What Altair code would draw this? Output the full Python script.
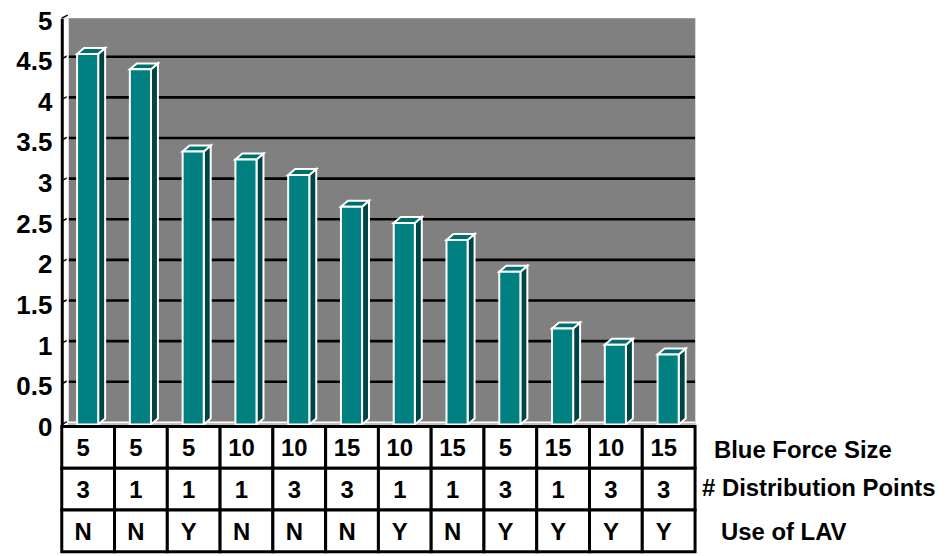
import altair as alt
import pandas as pd

# ---- data ----
values = [4.56, 4.37, 3.36, 3.26, 3.07, 2.68, 2.48, 2.27, 1.88, 1.18, 0.98, 0.86]
blue_force = ["5", "5", "5", "10", "10", "15", "10", "15", "5", "15", "10", "15"]
dist_points = ["3", "1", "1", "1", "3", "3", "1", "1", "3", "1", "3", "3"]
use_lav = ["N", "N", "Y", "N", "N", "N", "Y", "N", "Y", "Y", "Y", "Y"]
row_labels = ["Blue Force Size", "# Distribution Points", "Use of LAV"]
y_ticks = [0, 0.5, 1, 1.5, 2, 2.5, 3, 3.5, 4, 4.5, 5]

# ---- style / layout constants ----
W, H = 636, 536
Y0_PX = 408            # pixel row of value 0 inside the plot
TABLE_RANGE = [410, 536]
WALL_X = 6             # pixel offset of the back wall from the axis
FRONT_L, FRONT_R = 0.21, 0.19
DX, DY = 0.132, 0.073  # 3-D depth in data units
FONT = "Liberation Sans"
TEAL, DARK, GRAY = "#008080", "#004545", "#808080"
label_x = [655, 643, 662]
label_dy = [4, 0, 2]

n = len(values)
bars = pd.DataFrame({"i": list(range(n)), "v": values})
bars["c"] = bars["i"] + 0.5
bars["xl"] = bars["c"] - FRONT_L
bars["xr"] = bars["c"] + FRONT_R
bars["base"] = 0.0

side_rows, top_rows = [], []
for _, r in bars.iterrows():
    side_rows.append({"i": r.i, "x": r.xr, "y": r.v, "y2": 0.0})
    side_rows.append({"i": r.i, "x": r.xr + DX, "y": r.v + DY, "y2": DY})
    top_rows.append({"i": r.i, "y": r.v, "x": r.xl, "x2": r.xr})
    top_rows.append({"i": r.i, "y": r.v + DY, "x": r.xl + DX, "x2": r.xr + DX})
side = pd.DataFrame(side_rows)
top = pd.DataFrame(top_rows)

cells = []
for lab, vals in zip(row_labels, [blue_force, dist_points, use_lav]):
    for i, v in enumerate(vals):
        cells.append({"row": lab, "x0": i, "x1": i + 1, "c": i + 0.5, "val": v})
cells = pd.DataFrame(cells)

xs = alt.Scale(domain=[0, n], nice=False, zero=False)
ys = alt.Scale(domain=[0, 5], range=[Y0_PX, 0], nice=False, zero=False)
rs = alt.Scale(domain=row_labels, range=TABLE_RANGE, paddingInner=0, paddingOuter=0)
y_axis = alt.Axis(values=y_ticks, format="~g", ticks=False, grid=False,
                  domainColor="black", domainWidth=3, labelFont=FONT,
                  labelFontSize=26, labelFontWeight="bold", labelColor="black",
                  labelPadding=10, labelOffset=3, title=None)

grid_df = pd.DataFrame({"t": [t for t in y_ticks if 0 < t < 5]})
tick_df = pd.DataFrame({"t": y_ticks})

ticks = alt.Chart(tick_df).mark_rule(color="black", strokeWidth=1.5, y2Offset=-3).encode(
    y=alt.Y("t:Q", scale=ys, axis=y_axis),
    y2="t:Q", x=alt.value(0), x2=alt.value(WALL_X)
)
wall = alt.Chart(pd.DataFrame({"a": [0]})).mark_rect(fill=GRAY).encode(
    x=alt.value(WALL_X), x2=alt.value(W), y=alt.value(0), y2=alt.value(Y0_PX)
)
wall_edge = alt.Chart(pd.DataFrame({"a": [0]})).mark_rule(color="white", strokeWidth=2).encode(
    x=alt.value(WALL_X), y=alt.value(0), y2=alt.value(Y0_PX - 2)
)
floor = alt.Chart(pd.DataFrame({"a": [0]})).mark_rule(color="white", strokeWidth=2).encode(
    x=alt.value(WALL_X), x2=alt.value(W), y=alt.value(Y0_PX - 2)
)
grid = alt.Chart(grid_df).mark_rule(color="black", strokeWidth=2.6, yOffset=-2).encode(
    y=alt.Y("t:Q", scale=ys, axis=y_axis), x=alt.value(WALL_X), x2=alt.value(W)
)
side_l = alt.Chart(side).mark_area(fill=DARK, stroke="white", strokeWidth=2, strokeJoin="miter").encode(
    x=alt.X("x:Q", scale=xs, axis=None), y=alt.Y("y:Q", scale=ys, axis=y_axis), y2="y2:Q", detail="i:N"
)
top_l = alt.Chart(top).mark_area(orient="horizontal", fill="#006e6e", stroke="white",
                                 strokeWidth=2, strokeJoin="miter").encode(
    y=alt.Y("y:Q", scale=ys, axis=y_axis), x=alt.X("x:Q", scale=xs, axis=None), x2="x2:Q", detail="i:N"
)
front = alt.Chart(bars).mark_rect(fill=TEAL, stroke="white", strokeWidth=2).encode(
    x=alt.X("xl:Q", scale=xs, axis=None), x2="xr:Q",
    y=alt.Y("v:Q", scale=ys, axis=y_axis), y2="base:Q"
)
main = alt.layer(ticks, wall, grid, floor, wall_edge, side_l, top_l, front)

cell_l = alt.Chart(cells).mark_rect(fill="white", stroke="black", strokeWidth=3).encode(
    x=alt.X("x0:Q", scale=xs, axis=None), x2="x1:Q",
    y=alt.Y("row:N", scale=rs, axis=None)
)
cell_t = alt.Chart(cells).mark_text(font=FONT, fontSize=24, fontWeight="bold", color="black",
                                    dx=-5, dy=2, baseline="middle").encode(
    x=alt.X("c:Q", scale=xs, axis=None), y=alt.Y("row:N", scale=rs, axis=None), text="val:N"
)
label_layers = []
for k, lab in enumerate(row_labels):
    label_layers.append(
        alt.Chart(pd.DataFrame({"row": [lab]})).mark_text(
            font=FONT, fontSize=24, fontWeight="bold", color="black", align="left",
            baseline="middle", dy=label_dy[k]
        ).encode(x=alt.value(label_x[k]), y=alt.Y("row:N", scale=rs, axis=None), text="row:N")
    )
table = alt.layer(cell_l, cell_t, *label_layers)

chart = alt.layer(main, table).resolve_scale(y="independent").properties(
    width=W, height=H,
    autosize=alt.AutoSizeParams(type="none"),
    padding={"left": 54, "top": 9, "right": 248, "bottom": 3},
).configure_view(stroke=None).configure(background="white")

chart.save("out.html", embed_options={"renderer": "svg", "actions": False})
